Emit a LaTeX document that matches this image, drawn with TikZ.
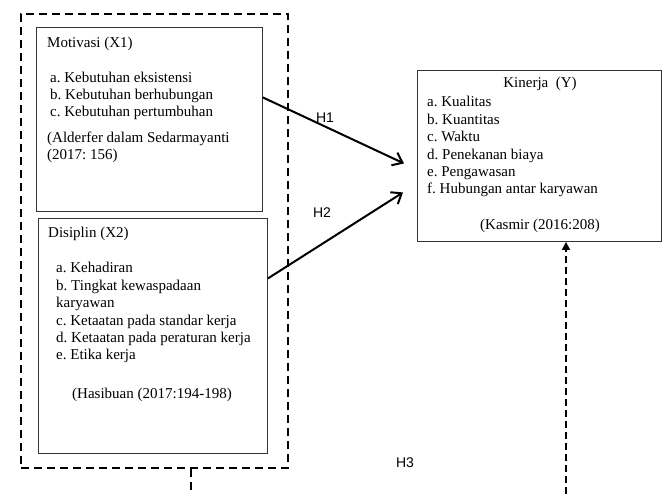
\documentclass[tikz,border=0pt]{standalone}
\usepackage{fontspec}
\setmainfont{Liberation Serif}
\newfontfamily\hfont{Liberation Sans}
\usetikzlibrary{arrows.meta}
\frenchspacing
\tikzset{
  varbox/.style={draw=black!80, line width=0.9pt, anchor=north west, inner sep=0pt},
  groupbox/.style={draw, line width=2.2pt, dash pattern=on 8pt off 5pt, anchor=north west, inner sep=0pt},
  txt/.style={anchor=base west, inner sep=0pt, align=left, font=\fontsize{15}{17.4}\selectfont},
  hyp/.style={line width=2pt, -{Straight Barb[length=9pt, width=14pt, line width=2pt]}},
  hlabel/.style={inner sep=0pt, font=\hfont\fontsize{14}{16}\selectfont}
}
\begin{document}
\begin{tikzpicture}[x=1pt, y=-1pt]
  \useasboundingbox (0,0) rectangle (662,494);
  \node[groupbox, minimum width=267pt, minimum height=454pt] (grp) at (20,13) {};
  \node[varbox, minimum width=226pt, minimum height=184pt] (mot) at (36,27) {};
  \node[varbox, minimum width=229pt, minimum height=235pt] (dis) at (38,218) {};
  \node[varbox, minimum width=244pt, minimum height=171pt] (kin) at (417,70) {};
  % Motivasi (base = last line)
  \node[txt] (motT) at (47,48) {Motivasi (X1)};
  \node[txt] (motL) at (50,117) {a. Kebutuhan eksistensi\\b. Kebutuhan berhubungan\\c. Kebutuhan pertumbuhan};
  \node[txt] (motS) at (47,160) {(Alderfer dalam Sedarmayanti\\(2017: 156)};
  % Disiplin
  \node[txt] (disT) at (48,238) {Disiplin (X2)};
  \node[txt] (disL) at (56,360) {a. Kehadiran\\b. Tingkat kewaspadaan\\karyawan\\c. Ketaatan pada standar kerja\\d. Ketaatan pada peraturan kerja\\e. Etika kerja};
  \node[txt] (disS) at (72,399) {(Hasibuan (2017:194-198)};
  % Kinerja
  \node[txt, anchor=base] (kinT) at (540,88) {Kinerja\ \ (Y)};
  \node[txt] (kinL) at (427,194) {a. Kualitas\\b. Kuantitas\\c. Waktu\\d. Penekanan biaya\\e. Pengawasan\\f. Hubungan antar karyawan};
  \node[txt, anchor=base] (kinS) at (540,230) {(Kasmir (2016:208)};
  % hipotesis
  \draw[hyp] ([yshift=22pt]mot.east) -- ([xshift=-13pt, yshift=-7.5pt]kin.west);
  \draw[hyp] ([yshift=57.5pt]dis.east) -- ([xshift=-14pt, yshift=-36.5pt]kin.west);
  \node[hlabel] (h1) at (325,118) {H1};
  \node[hlabel] (h2) at (322,213) {H2};
  \node[hlabel] (h3) at (405,463) {H3};
  \coordinate (h3a) at (191,494);
  \coordinate (h3b) at (566,494);
  \draw[line width=2pt, dash pattern=on 8pt off 5pt] (grp.south -| h3a) -- (h3a);
  \draw[line width=1.6pt, dash pattern=on 7pt off 4pt, -{Triangle[length=8pt, width=8pt]}] (h3b) -- (kin.south -| h3b);
\end{tikzpicture}
\end{document}
